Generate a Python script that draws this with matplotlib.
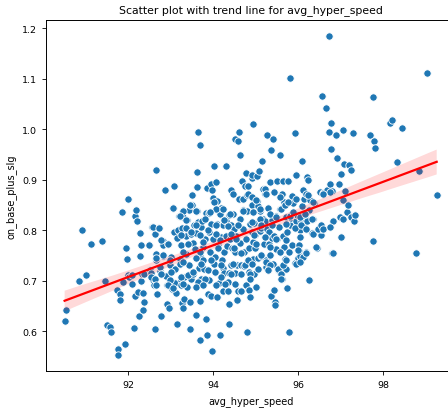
import numpy as np
import pandas as pd
import matplotlib
matplotlib.use("Agg")
import matplotlib.pyplot as plt
import seaborn as sns

# (avg_hyper_speed, on_base_plus_slg) pairs
group_a = [
    (90.51, 0.621), (90.54, 0.641), (90.85, 0.700), (90.93, 0.800), (91.02, 0.711),
    (91.13, 0.773), (91.40, 0.779), (91.46, 0.700), (91.51, 0.613), (91.58, 0.609),
    (91.60, 0.599), (91.75, 0.682), (91.77, 0.564), (91.77, 0.552), (91.80, 0.674),
    (91.80, 0.661), (91.86, 0.837), (91.89, 0.698), (91.94, 0.574), (91.95, 0.764),
    (91.98, 0.743), (92.00, 0.862), (92.00, 0.711), (92.02, 0.708), (92.10, 0.711),
    (92.09, 0.694), (92.13, 0.606), (92.16, 0.829), (92.19, 0.840), (92.20, 0.819),
    (92.17, 0.670), (92.23, 0.678), (92.25, 0.629), (92.27, 0.794), (92.28, 0.749),
    (92.30, 0.770), (92.30, 0.700), (92.33, 0.714), (92.34, 0.675), (92.35, 0.642),
    (92.37, 0.657), (92.38, 0.713), (92.49, 0.770),
]
group_b = [
    (92.52, 0.721), (92.55, 0.715), (92.56, 0.806), (92.58, 0.701), (92.61, 0.691),
    (92.63, 0.792), (92.63, 0.605), (92.66, 0.920), (92.66, 0.752), (92.66, 0.741),
    (92.67, 0.674), (92.70, 0.804), (92.74, 0.719), (92.75, 0.727), (92.78, 0.630),
    (92.81, 0.749), (92.83, 0.779), (92.83, 0.770), (92.86, 0.880), (92.88, 0.709),
    (92.91, 0.691), (92.94, 0.773), (92.92, 0.654), (92.96, 0.646), (92.99, 0.731),
    (93.02, 0.746), (93.03, 0.684), (93.05, 0.844), (93.07, 0.887), (93.08, 0.796),
    (93.10, 0.723), (93.11, 0.696), (93.13, 0.675), (93.14, 0.614), (93.16, 0.785),
    (93.17, 0.800), (93.19, 0.829), (93.21, 0.742), (93.23, 0.733), (93.25, 0.702),
    (93.25, 0.691), (93.25, 0.770), (93.26, 0.804), (93.27, 0.655), (93.28, 0.838),
    (93.30, 0.827), (93.30, 0.645), (93.32, 0.707), (93.32, 0.663), (93.35, 0.753),
    (93.35, 0.804), (93.37, 0.788), (93.38, 0.821), (93.39, 0.688), (93.43, 0.731),
    (93.44, 0.840), (93.46, 0.605), (93.46, 0.657), (93.47, 0.703), (93.47, 0.793),
    (93.50, 0.850), (93.50, 0.869), (93.52, 0.775), (93.53, 0.713), (93.55, 0.810),
    (93.57, 0.763), (93.59, 0.632), (93.60, 0.795), (93.61, 0.886), (93.62, 0.915),
    (93.63, 0.839), (93.64, 0.816), (93.65, 0.994), (93.66, 0.725), (93.68, 0.748),
    (93.69, 0.582), (93.69, 0.968), (93.70, 0.659), (93.71, 0.703), (93.72, 0.806),
    (93.74, 0.819), (93.75, 0.766), (93.77, 0.741), (93.79, 0.724), (93.80, 0.782),
    (93.82, 0.835), (93.84, 0.625), (93.85, 0.593), (93.86, 0.884), (93.88, 0.673),
    (93.89, 0.796), (93.90, 0.701), (93.91, 0.835), (93.93, 0.757), (93.94, 0.669),
    (93.95, 0.891), (93.96, 0.812), (93.97, 0.880), (93.98, 0.561), (93.99, 0.864),
]
group_c = [
    (94.00, 0.783), (94.01, 0.733), (94.03, 0.927), (94.04, 0.746), (94.05, 0.717),
    (94.07, 0.895), (94.08, 0.857), (94.08, 0.812), (94.10, 0.668), (94.11, 0.770),
    (94.13, 0.696), (94.15, 0.593), (94.16, 0.833), (94.18, 0.787), (94.19, 0.844),
    (94.20, 0.740), (94.22, 0.725), (94.23, 0.680), (94.24, 0.810), (94.26, 0.756),
    (94.26, 0.715), (94.29, 0.819), (94.30, 0.927), (94.31, 0.788), (94.32, 0.696),
    (94.33, 0.769), (94.35, 0.680), (94.36, 0.715), (94.36, 0.831), (94.38, 0.614),
    (94.38, 0.653), (94.40, 0.783), (94.41, 0.879), (94.42, 0.811), (94.43, 0.731),
    (94.45, 0.764), (94.46, 0.832), (94.47, 0.872), (94.49, 0.803), (94.51, 0.715),
    (94.51, 0.981), (94.52, 0.756), (94.54, 0.789), (94.55, 0.662), (94.57, 0.731),
    (94.58, 0.679), (94.59, 0.976), (94.60, 0.994), (94.60, 0.862), (94.62, 0.949),
    (94.62, 0.822), (94.64, 0.775), (94.65, 0.679), (94.66, 0.731), (94.68, 0.898),
    (94.69, 0.862), (94.70, 0.841), (94.71, 0.803), (94.72, 0.757), (94.73, 0.729),
    (94.74, 0.887), (94.76, 0.913), (94.76, 0.783), (94.78, 0.692), (94.79, 0.599),
    (94.80, 0.869), (94.80, 0.838), (94.82, 0.887), (94.83, 0.765), (94.84, 0.682),
    (94.85, 0.717), (94.86, 0.812), (94.87, 0.667), (94.88, 0.737), (94.90, 0.796),
    (94.91, 0.904), (94.91, 0.909), (94.92, 0.849), (94.93, 0.777), (94.94, 1.011),
    (94.94, 0.742), (94.96, 0.713), (94.97, 0.815), (94.98, 0.765), (94.99, 0.790),
    (95.01, 0.688), (95.02, 0.858), (95.04, 0.907), (95.05, 0.744), (95.06, 0.847),
    (95.08, 0.918), (95.09, 0.799), (95.10, 0.839), (95.12, 0.749), (95.13, 0.804),
    (95.15, 0.937), (95.16, 0.823), (95.18, 0.882), (95.19, 0.772), (95.21, 0.871),
    (95.22, 0.819), (95.23, 0.727), (95.24, 0.740), (95.26, 0.988), (95.26, 0.803),
    (95.28, 0.722), (95.29, 0.844), (95.30, 0.772), (95.32, 0.796), (95.33, 0.895),
    (95.34, 0.750), (95.35, 0.959), (95.36, 0.669), (95.38, 0.784), (95.38, 0.821),
    (95.40, 0.734), (95.41, 0.981), (95.43, 0.681), (95.44, 0.788), (95.45, 0.658),
    (95.46, 0.651), (95.47, 0.829), (95.48, 0.762), (95.49, 0.782),
]
group_d = [
    (95.51, 0.897), (95.52, 0.722), (95.54, 0.807), (95.56, 0.950), (95.57, 0.723),
    (95.58, 0.843), (95.59, 0.713), (95.61, 0.704), (95.62, 0.871), (95.63, 0.898),
    (95.64, 0.789), (95.66, 0.727), (95.66, 0.856), (95.67, 0.767), (95.69, 0.742),
    (95.70, 0.827), (95.71, 0.724), (95.73, 0.796), (95.74, 0.686), (95.76, 0.897),
    (95.77, 0.756), (95.79, 0.599), (95.80, 1.102), (95.81, 0.810), (95.82, 0.825),
    (95.84, 0.868), (95.85, 0.770), (95.88, 0.853), (95.92, 0.992), (95.93, 0.735),
    (95.95, 0.910), (95.95, 0.818), (95.98, 0.831), (95.99, 0.744), (96.01, 0.770),
    (96.02, 0.759), (96.03, 0.800), (96.05, 0.748), (96.06, 0.818), (96.08, 0.848),
    (96.09, 0.937), (96.10, 0.880), (96.11, 0.746), (96.12, 0.810), (96.13, 0.862),
    (96.15, 0.829), (96.17, 0.871), (96.18, 0.756), (96.20, 0.819), (96.21, 0.905),
    (96.23, 0.899), (96.24, 0.841), (96.26, 0.701), (96.28, 0.860), (96.32, 0.795),
    (96.34, 0.823), (96.37, 0.854), (96.43, 0.765), (96.50, 0.876), (96.51, 0.806),
    (96.53, 0.790), (96.54, 0.802), (96.56, 1.067), (96.59, 0.874), (96.64, 1.043),
    (96.67, 0.880), (96.71, 1.185), (96.73, 0.994), (96.75, 0.891), (96.76, 1.013),
    (96.77, 0.961), (96.78, 0.878), (96.80, 0.754), (96.81, 0.818), (96.89, 0.988),
    (96.92, 0.943), (96.95, 0.891), (96.98, 0.826), (97.00, 0.786), (97.00, 0.912),
    (97.04, 0.999), (97.06, 0.859), (97.08, 0.932), (97.10, 0.877), (97.14, 0.836),
    (97.17, 0.849), (97.20, 0.930), (97.23, 0.920), (97.24, 0.826), (97.29, 0.993),
    (97.31, 0.819), (97.34, 0.831), (97.69, 0.988), (97.75, 0.778), (97.76, 1.065),
    (97.78, 0.976), (97.79, 0.963), (98.16, 1.012), (98.19, 1.019), (98.31, 0.936),
    (98.43, 1.003), (98.77, 0.755), (98.84, 0.917), (99.03, 1.111), (99.25, 0.869),
]
dense_upper_left = [
    (94.03, 0.856), (94.07, 0.843), (94.23, 0.843), (93.06, 0.845), (93.45, 0.849),
    (93.28, 0.839), (93.21, 0.828), (93.60, 0.838), (93.92, 0.837), (94.39, 0.833),
    (94.25, 0.820), (94.70, 0.839), (93.37, 0.820), (93.80, 0.823), (94.07, 0.810),
    (93.59, 0.811), (93.88, 0.800), (94.35, 0.808), (94.58, 0.810), (93.25, 0.790),
    (93.49, 0.796), (93.68, 0.790), (94.07, 0.793), (94.43, 0.793), (92.59, 0.806),
    (92.73, 0.804), (92.78, 0.780), (92.94, 0.773), (93.41, 0.773), (93.76, 0.777),
    (94.15, 0.780), (94.54, 0.783), (92.49, 0.770), (92.81, 0.750), (93.29, 0.757),
    (93.68, 0.757), (94.11, 0.764), (94.50, 0.764), (94.66, 0.754),
]
dense_upper_right = [
    (94.82, 0.872), (94.90, 0.866), (95.01, 0.859), (95.09, 0.843), (95.21, 0.882),
    (95.25, 0.872), (94.94, 0.836), (94.90, 0.816), (95.09, 0.823), (95.33, 0.833),
    (95.13, 0.810), (95.37, 0.810), (95.48, 0.826), (95.60, 0.843), (95.68, 0.849),
    (95.76, 0.856), (95.80, 0.829), (95.88, 0.836), (96.03, 0.826), (96.15, 0.833),
    (96.31, 0.823), (95.72, 0.813), (95.91, 0.804), (96.07, 0.810), (96.19, 0.803),
    (96.34, 0.793), (96.46, 0.803), (96.54, 0.810), (94.97, 0.790), (95.21, 0.787),
    (95.48, 0.783), (95.72, 0.780), (96.03, 0.787), (96.42, 0.767), (95.01, 0.773),
    (95.33, 0.767), (95.56, 0.757), (95.99, 0.760), (96.19, 0.754), (95.13, 0.750),
    (96.81, 0.754), (96.58, 0.803), (96.74, 0.806), (97.05, 0.823), (96.74, 0.876),
    (96.58, 0.872), (96.34, 0.856), (96.23, 0.869), (95.95, 0.862), (95.56, 0.866),
    (95.44, 0.876),
]
dense_lower_left = [
    (92.66, 0.744), (92.98, 0.741), (93.29, 0.737), (93.60, 0.744), (93.72, 0.734),
    (93.96, 0.741), (94.19, 0.731), (94.47, 0.734), (94.74, 0.731), (92.55, 0.708),
    (92.63, 0.704), (92.78, 0.714), (93.02, 0.717), (92.98, 0.701), (93.25, 0.708),
    (93.41, 0.711), (93.53, 0.717), (93.64, 0.698), (93.80, 0.704), (93.88, 0.721),
    (94.04, 0.717), (94.19, 0.708), (94.35, 0.698), (94.43, 0.714), (94.66, 0.714),
    (92.66, 0.691), (92.94, 0.691), (93.06, 0.685), (93.29, 0.694), (93.60, 0.688),
    (93.76, 0.691), (94.07, 0.691), (94.27, 0.694), (94.51, 0.694),
]
dense_lower_right = [
    (94.82, 0.741), (94.90, 0.734), (94.86, 0.714), (95.05, 0.724), (94.87, 0.704),
    (95.25, 0.737), (95.33, 0.731), (95.29, 0.721), (95.52, 0.724), (95.60, 0.714),
    (95.64, 0.731), (95.70, 0.741), (95.60, 0.704), (95.95, 0.734), (96.03, 0.737),
]

groups = [group_a, group_b, group_c, group_d,
          dense_upper_left, dense_upper_right, dense_lower_left, dense_lower_right]
pts = [p for g in groups for p in g]
df = pd.DataFrame(pts, columns=["avg_hyper_speed", "on_base_plus_slg"])

fig = plt.figure(figsize=(4.48, 4.10), dpi=100)
ax = fig.add_axes([46 / 448, 1 - 372.3 / 410, 409.3 / 448, 351.3 / 410])

sns.scatterplot(data=df, x="avg_hyper_speed", y="on_base_plus_slg", ax=ax,
                s=28, color="#1f77b4", edgecolor="white", linewidth=0.6)
sns.regplot(data=df, x="avg_hyper_speed", y="on_base_plus_slg", ax=ax,
            scatter=False, color="red", seed=1, line_kws={"linewidth": 1.6})

ax.set_title("Scatter plot with trend line for avg_hyper_speed", fontsize=7.8)
ax.set_xlabel("avg_hyper_speed", fontsize=7)
ax.set_ylabel("on_base_plus_slg", fontsize=7)
ax.tick_params(labelsize=6.8, length=3, width=0.6)
for s in ax.spines.values():
    s.set_linewidth(0.7)
ax.set_xticks([92, 94, 96, 98])
ax.set_yticks([0.6, 0.7, 0.8, 0.9, 1.0, 1.1, 1.2])

fig.savefig("out.png", dpi=100)
